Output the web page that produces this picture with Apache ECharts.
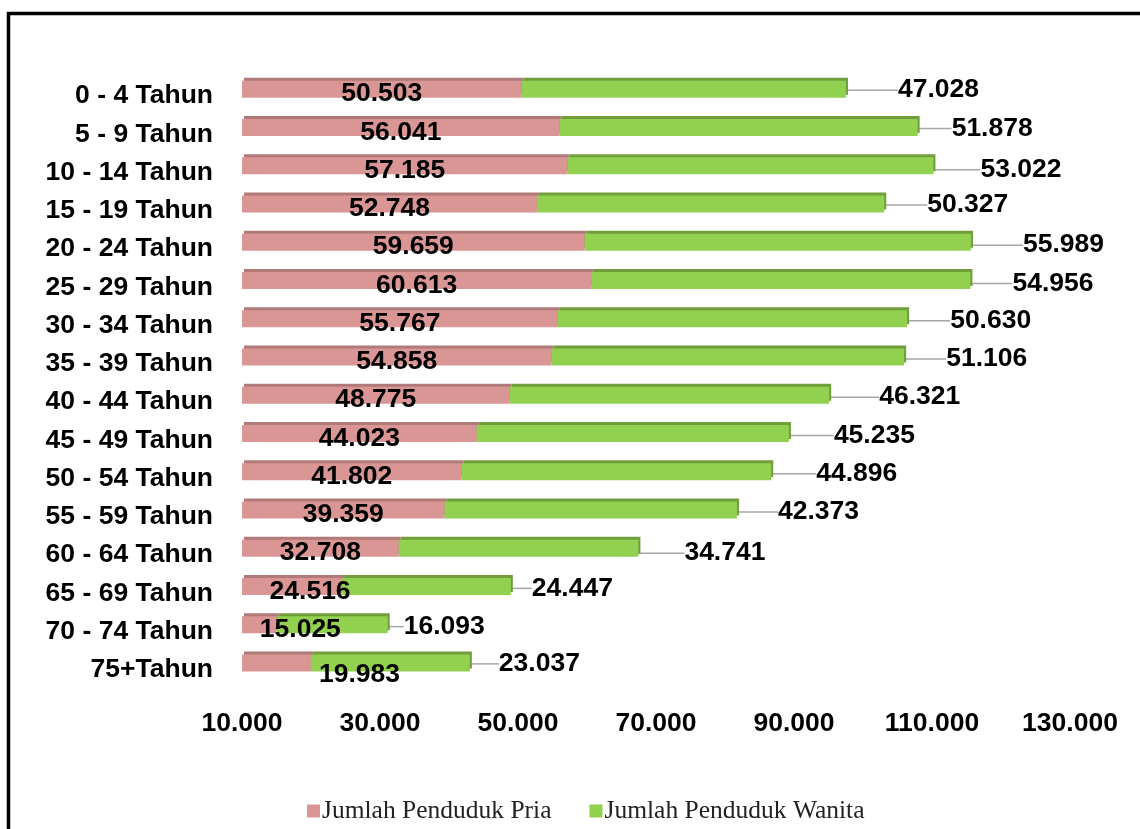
<!DOCTYPE html>
<html>
<head>
<meta charset="utf-8">
<script src="https://cdn.jsdelivr.net/npm/echarts@6/dist/echarts.min.js"></script>
<style>
html,body{margin:0;padding:0;background:#fff;}
#chart{width:1140px;height:829px;}
</style>
</head>
<body>
<div id="chart"></div>
<script>
var categories = ['0 - 4 Tahun','5 - 9 Tahun','10 - 14 Tahun','15 - 19 Tahun','20 - 24 Tahun','25 - 29 Tahun','30 - 34 Tahun','35 - 39 Tahun','40 - 44 Tahun','45 - 49 Tahun','50 - 54 Tahun','55 - 59 Tahun','60 - 64 Tahun','65 - 69 Tahun','70 - 74 Tahun','75+Tahun'];
var pria = [50503, 56041, 57185, 52748, 59659, 60613, 55767, 54858, 48775, 44023, 41802, 39359, 32708, 24516, 15025, 19983];
var wanita = [47028, 51878, 53022, 50327, 55989, 54956, 50630, 51106, 46321, 45235, 44896, 42373, 34741, 24447, 16093, 23037];
var xTicks = [10000, 30000, 50000, 70000, 90000, 110000, 130000];
var seriesNames = ['Jumlah Penduduk Pria', 'Jumlah Penduduk Wanita'];

// label placement tweaks (layout only)
var priaDx = [0,0,0,0,0,0,0,0,0,0,0,0,0,18,41,83];
var priaDy = [5,5,5,5,5,5,5,5,5,5,5,5,5,5,5,12];
var wanitaDx = [50,32,45,41,50,40,41,40,48,43,43,39,44,19,14,27];
var wanitaDy = [1,1,4,1,3,3,2,2,2,2,2,2,5,2,2,1];

function fmt(v){ return String(v).replace(/\B(?=(\d{3})+(?!\d))/g, '.'); }

var chart = echarts.init(document.getElementById('chart'));
var labelFont = {fontFamily:'Liberation Sans, Arial, sans-serif', fontWeight:'bold', fontSize:26.5, color:'#000'};

chart.setOption({
  animation:false,
  backgroundColor:'#fff',
  graphic:[{
    type:'rect', shape:{x:8.5, y:13.5, width:1200, height:900},
    style:{fill:'none', stroke:'#000', lineWidth:3.5}, silent:true
  }],
  legend:{
    bottom:0, left:302,
    itemWidth:13, itemHeight:13, itemGap:38,
    icon:'rect',
    textStyle:{fontFamily:'Liberation Serif, Times New Roman, serif', fontSize:25.5, color:'#222', padding:[0,0,0,-3]},
    data:seriesNames
  },
  grid:{left:242, right:70, top:70, bottom:147, containLabel:false},
  xAxis:{
    type:'value', min:10000, max:130000,
    axisLine:{show:false}, axisTick:{show:false}, splitLine:{show:false},
    axisLabel:Object.assign({customValues:xTicks, margin:28, formatter:function(v){return fmt(v);}}, labelFont)
  },
  yAxis:{
    type:'category', inverse:true, data:categories,
    axisLine:{show:false}, axisTick:{show:false},
    axisLabel:Object.assign({margin:29, verticalAlign:'top', lineHeight:14}, labelFont)
  },
  series:[
    {
      name:seriesNames[0], type:'bar', stack:'total', barWidth:17, clip:true,
      data:pria,
      itemStyle:{color:'#D99694', shadowColor:'#B07A78', shadowBlur:0, shadowOffsetX:2, shadowOffsetY:-3},
      label:Object.assign({show:true, position:'inside', formatter:function(p){return fmt(p.value);}}, labelFont),
      labelLayout:function(p){ return {dx:priaDx[p.dataIndex], dy:priaDy[p.dataIndex]}; }
    },
    {
      name:seriesNames[1], type:'bar', stack:'total', barWidth:17, clip:true,
      data:wanita,
      itemStyle:{color:'#92D050', shadowColor:'#6F9E3A', shadowBlur:0, shadowOffsetX:2, shadowOffsetY:-3},
      label:Object.assign({show:true, position:'right', distance:2, formatter:function(p){return fmt(p.value);}}, labelFont),
      labelLine:{show:true, lineStyle:{color:'#A6A6A6', width:1.5}},
      labelLayout:function(p){ return {dx:wanitaDx[p.dataIndex], dy:wanitaDy[p.dataIndex]}; }
    }
  ]
});
</script>
</body>
</html>
